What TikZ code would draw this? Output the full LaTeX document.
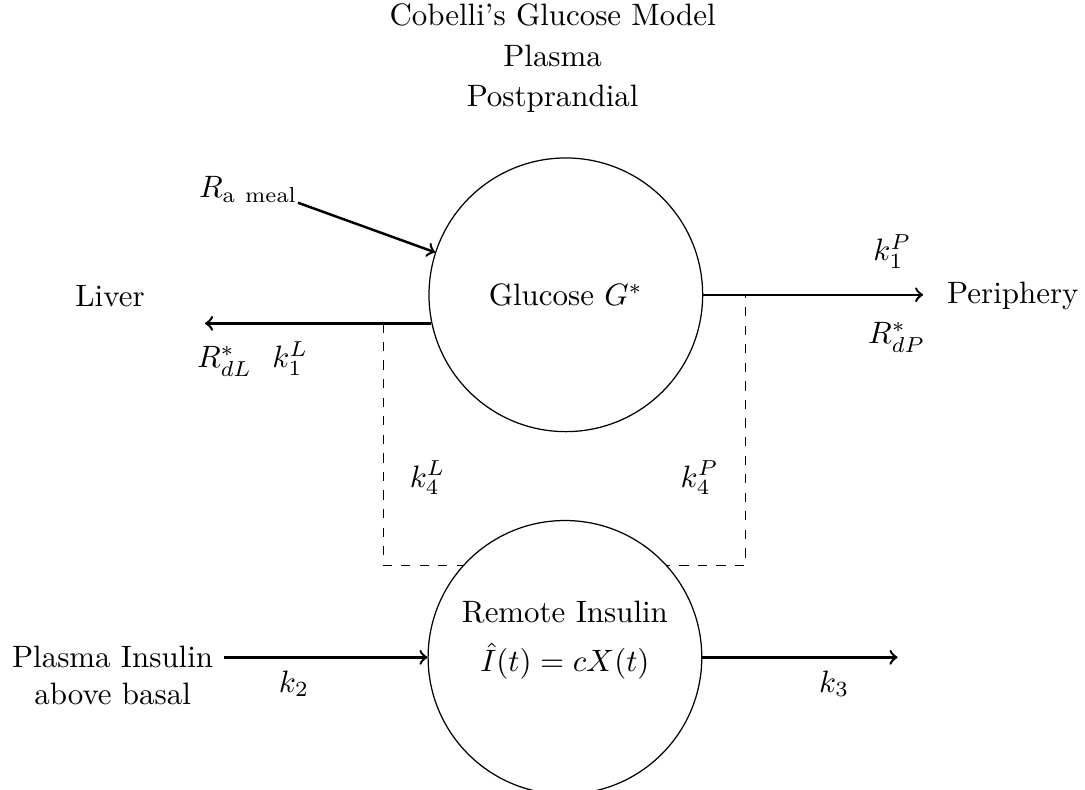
\documentclass[tikz,border=0pt]{standalone}
\usepackage{tikz}

\begin{document}
\begin{tikzpicture}[compartment/.style={circle,draw,fill=white,minimum size=3.11cm,inner sep=0pt},
                    flow/.style={->,thick}]
        \useasboundingbox (0,0) rectangle (12.33,-8.97);
        \draw (6.28,-0.04) node[anchor=north,align=center,inner sep=0pt] (title) {Cobelli's Glucose Model\\[1pt] Plasma\\[1pt] Postprandial};
        \draw (6.43,-3.35) node[compartment] (glucose) {Glucose $G^*$};
        \draw (1.25,-3.36) node (liver) {Liver};
        \draw (11.51,-3.36) node (periph) {Periphery};
        \draw (2.82,-2.15) node[inner sep=0pt] (meal) {$R_{\mathrm{a\ meal}}$};
        \coordinate (liverend) at (2.33,-3.67);
        \coordinate (periend) at (10.49,-3.35);
        \coordinate (lcorner) at (4.36,-6.43);
        \coordinate (rcorner) at (8.47,-6.43);
        \draw[dashed] (glucose.192 -| lcorner) -- (lcorner) -- (rcorner) -- (glucose.east -| rcorner);
        % empty last line lifts the text a little above the centre
        \draw (6.42,-7.47) node[compartment,align=center] (remote) {Remote Insulin\\[4pt] $\hat{I}(t) = cX(t)$\\[1.5pt]\mbox{}};
        \draw (1.28,-7.68) node[align=center] (plasmains) {Plasma Insulin\\ above basal};
        \coordinate (outend) at (10.20,-7.47);
        \draw[flow] (meal.south east)--(glucose.162);
        \draw[flow] (glucose.192)--(glucose.192 -| liverend);
        \draw[flow] (glucose.east)--(periend);
        \draw[flow] (plasmains.east |- remote.west)--(remote.west);
        \draw[flow] (remote.east)--(outend);
        \draw (2.87,-4.08) node (rdl) {$R^*_{dL}\ \ k^L_1$};
        \draw (10.14,-2.86) node (k1p) {$k^P_1$};
        \draw (10.19,-3.83) node (rdp) {$R^*_{dP}$};
        \draw (4.86,-5.43) node (k4l) {$k^L_4$};
        \draw (7.95,-5.43) node (k4p) {$k^P_4$};
        \draw (3.34,-7.77) node (k2) {$k_2$};
        \draw (9.48,-7.77) node (k3) {$k_3$};
    \end{tikzpicture}
\end{document}
